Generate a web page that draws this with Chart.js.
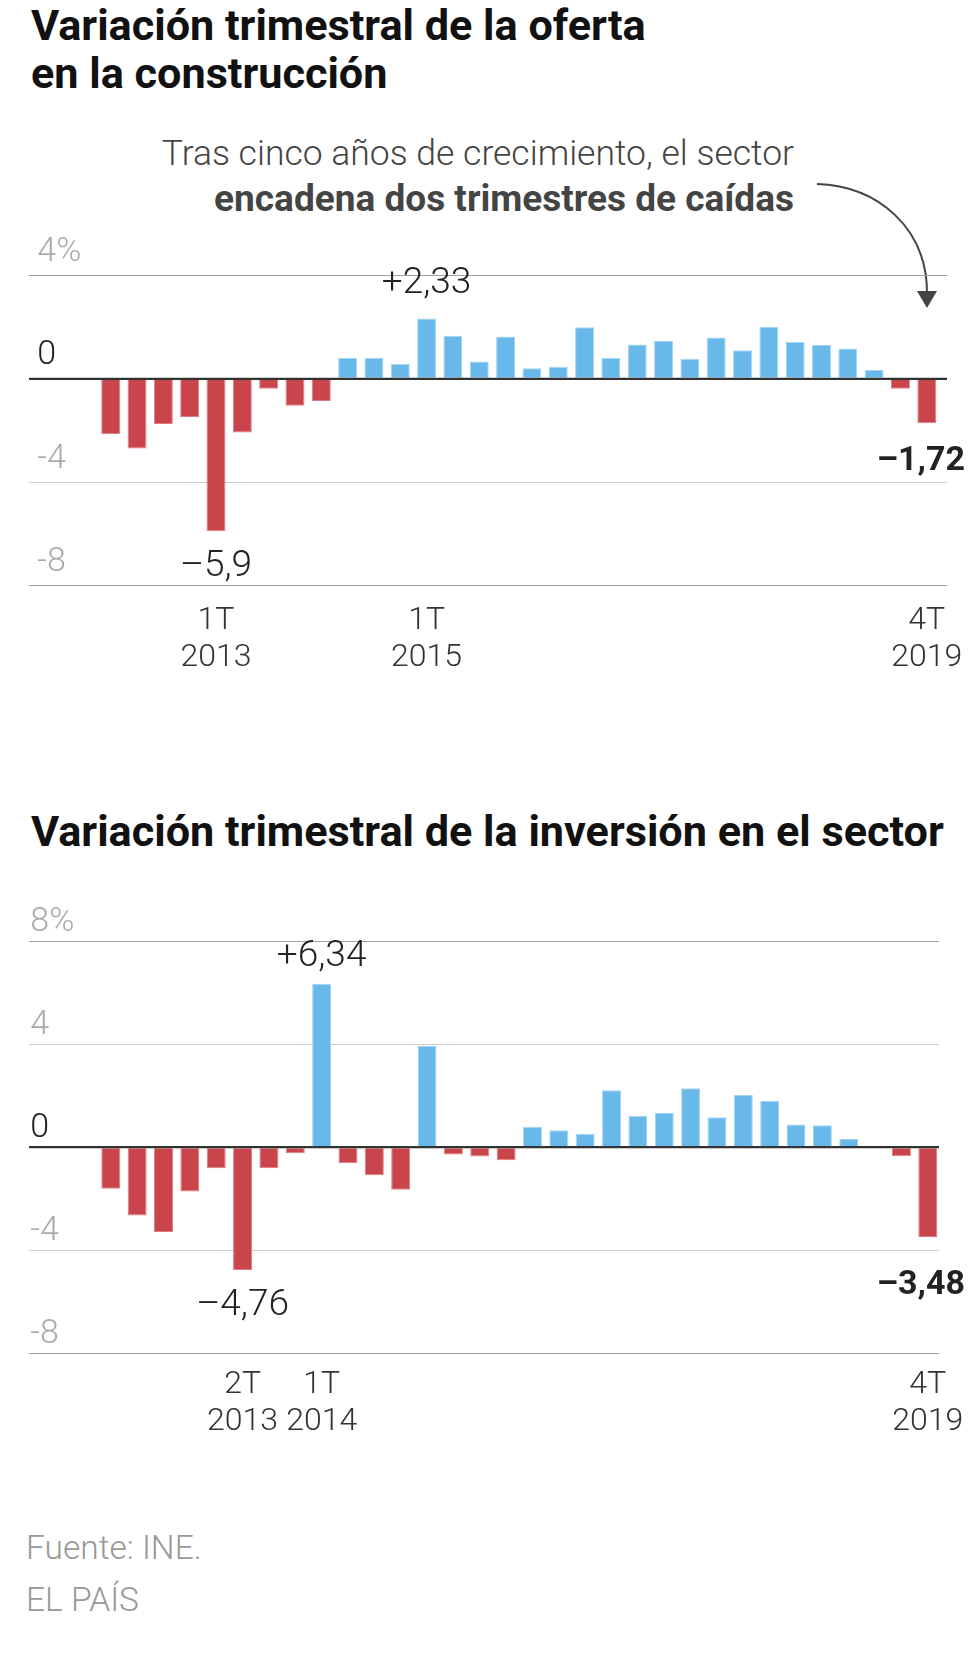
<!DOCTYPE html>
<html lang="es">
<head>
<meta charset="utf-8">
<script src="https://cdn.jsdelivr.net/npm/chart.js"></script>
<style>
html,body{margin:0;padding:0;background:#fff;}
body{width:980px;height:1657px;position:relative;overflow:hidden;font-family:Roboto,"Noto Sans",sans-serif;}
.title{position:absolute;left:31px;margin:0;font-weight:700;font-size:43.2px;line-height:47.5px;color:#111;white-space:nowrap;}
.note{position:absolute;right:186px;top:130px;text-align:right;font-size:35.5px;line-height:46px;color:#444;font-weight:300;white-space:nowrap;}
.note b{font-weight:700;font-size:37px;}
.foot{position:absolute;left:26px;top:1522px;font-size:33.5px;line-height:52px;color:#999;font-weight:300;white-space:nowrap;}
canvas{position:absolute;left:0;}
svg{position:absolute;left:0;top:0;}
</style>
</head>
<body>
<div class="title" style="top:2px">Variación trimestral de la oferta<br>en la construcción</div>
<div class="note">Tras cinco años de crecimiento, el sector<br><b>encadena dos trimestres de caídas</b></div>
<svg width="980" height="330" viewBox="0 0 980 330">
  <path d="M 817 184 C 878 186, 927 228, 927 293" fill="none" stroke="#444" stroke-width="2"/>
  <polygon points="917,291 937,291 927,308" fill="#444"/>
</svg>
<canvas id="c1" width="980" height="480" style="top:220px;width:980px;height:480px"></canvas>
<div class="title" style="top:808px">Variación trimestral de la inversión en el sector</div>
<canvas id="c2" width="980" height="560" style="top:880px;width:980px;height:560px"></canvas>
<div class="foot">Fuente: INE.<br>EL PAÍS</div>
<script>
// ---- data ----
const quarters = [
  '1T 2012','2T 2012','3T 2012','4T 2012',
  '1T 2013','2T 2013','3T 2013','4T 2013',
  '1T 2014','2T 2014','3T 2014','4T 2014',
  '1T 2015','2T 2015','3T 2015','4T 2015',
  '1T 2016','2T 2016','3T 2016','4T 2016',
  '1T 2017','2T 2017','3T 2017','4T 2017',
  '1T 2018','2T 2018','3T 2018','4T 2018',
  '1T 2019','2T 2019','3T 2019','4T 2019'
];
const offerValues = [
  -2.15,-2.70,-1.75,-1.48,-5.90,-2.08,-0.39,-1.05,
  -0.86,0.80,0.80,0.58,2.33,1.66,0.67,1.63,
  0.40,0.46,1.99,0.81,1.32,1.46,0.77,1.59,
  1.10,2.00,1.42,1.30,1.17,0.34,-0.39,-1.72
];
const investmentValues = [
  -1.61,-2.65,-3.29,-1.72,-0.81,-4.76,-0.81,-0.23,
  6.34,-0.62,-1.09,-1.65,3.94,-0.28,-0.36,-0.50,
  0.80,0.66,0.52,2.21,1.21,1.33,2.29,1.16,
  2.03,1.80,0.88,0.85,0.32,0.00,-0.35,-3.48
];
const offerTickLabels = ['1T 2013','1T 2015','4T 2019'];
const investmentTickLabels = ['2T 2013','1T 2014','4T 2019'];
const offerYTicks = [4, 0, -4, -8];
const investmentYTicks = [8, 4, 0, -4, -8];
const offerHighlights = ['1T 2015','1T 2013','4T 2019'];
const investmentHighlights = ['1T 2014','2T 2013','4T 2019'];

// ---- styles ----
const RED = '#c9444b', BLUE = '#68b8ea';
const RED_EDGE = '#dc7d83', BLUE_EDGE = '#a5d4f2';
Chart.defaults.font.family = "Roboto, 'Noto Sans', sans-serif";

function fmt(v){
  const s = String(Math.abs(v)).replace('.', ',');
  return (v > 0 ? '+' : '\u2013') + s;
}

const valueLabels = {
  id: 'valueLabels',
  afterDatasetsDraw(chart, args, opts){
    const {ctx, chartArea, scales} = chart;
    const y0 = scales.y.getPixelForValue(0);
    ctx.save();
    ctx.strokeStyle = '#333';
    ctx.lineWidth = 2;
    ctx.beginPath();
    ctx.moveTo(chartArea.left, y0);
    ctx.lineTo(chartArea.right, y0);
    ctx.stroke();
    const meta = chart.getDatasetMeta(0);
    const data = chart.data.datasets[0].data;
    opts.items.forEach(it => {
      const i = quarters.indexOf(it.q);
      const el = meta.data[i];
      const v = data[i].y;
      ctx.font = (it.bold ? '700 ' : '300 ') + it.size + "px Roboto, 'Noto Sans', sans-serif";
      ctx.fillStyle = '#222';
      ctx.textAlign = 'center';
      ctx.textBaseline = 'middle';
      ctx.fillText(fmt(v), el.x + (it.dx || 0), el.y + it.dy);
    });
    ctx.restore();
  }
};

function makeChart(id, values, tickLabels, yTicks, highlights, geo){
  const tickIdx = tickLabels.map(l => quarters.indexOf(l));
  const yMax = Math.max(...yTicks), yMin = Math.min(...yTicks);
  return new Chart(document.getElementById(id), {
    type: 'bar',
    data: {
      datasets: [{
        data: values.map((v, i) => ({x: i, y: v})),
        backgroundColor: c => c.parsed.y < 0 ? RED : BLUE,
        borderColor: c => c.parsed.y < 0 ? RED_EDGE : BLUE_EDGE,
        borderWidth: 1,
        barPercentage: 0.72,
        categoryPercentage: 1
      }]
    },
    options: {
      responsive: false,
      animation: false,
      events: [],
      layout: {padding: {left: 29.3, right: geo.right, top: geo.top, bottom: 0}},
      plugins: {
        legend: {display: false},
        tooltip: {enabled: false},
        valueLabels: {items: highlights}
      },
      scales: {
        x: {
          type: 'linear',
          min: -3.092,
          max: geo.xMax,
          offset: false,
          grid: {display: false, drawTicks: false},
          border: {display: false},
          afterFit: s => { s.height = geo.xHeight; },
          afterBuildTicks: s => { s.ticks = tickIdx.map(v => ({value: v})); },
          ticks: {
            autoSkip: false,
            maxRotation: 0,
            padding: geo.xPad,
            color: '#333',
            font: {size: 32, weight: 300, lineHeight: geo.xLine + 'px'},
            callback: v => quarters[v].split(' ')
          }
        },
        y: {
          min: yMin,
          max: yMax,
          afterFit: s => { s.width = 0; },
          afterBuildTicks: s => { s.ticks = yTicks.map(v => ({value: v})); },
          border: {display: false},
          grid: {
            drawTicks: false,
            color: c => c.tick.value === 0 ? '#333' : ((c.tick.value === yMax || c.tick.value === yMin) ? '#a0a0a0' : '#cccccc'),
            lineWidth: c => c.tick.value === 0 ? 2 : 1
          },
          ticks: {
            mirror: true,
            padding: geo.yPad,
            labelOffset: geo.yOff,
            color: c => c.tick.value === 0 ? '#222' : '#aaaaaa',
            font: {size: 34, weight: 300},
            callback: v => v === yMax ? v + '%' : String(v)
          }
        }
      }
    },
    plugins: [valueLabels]
  });
}

makeChart('c1', offerValues, offerTickLabels, offerYTicks, [
  {q: offerHighlights[0], dy: -35, size: 37},
  {q: offerHighlights[1], dy: 36, size: 37},
  {q: offerHighlights[2], dy: 38, dx: -6, size: 34, bold: true}
], {right: 32, top: 55.3, xMax: 31.766, xHeight: 114.5, xPad: 17, xLine: 37, yPad: 8, yOff: -23});

makeChart('c2', investmentValues, investmentTickLabels, investmentYTicks, [
  {q: investmentHighlights[0], dy: -27, size: 37},
  {q: investmentHighlights[1], dy: 36, size: 37},
  {q: investmentHighlights[2], dy: 49, dx: -7, size: 34, bold: true}
], {right: 41, top: 61, xMax: 31.425, xHeight: 86.5, xPad: 13, xLine: 37, yPad: 1, yOff: -19});
</script>
</body>
</html>
